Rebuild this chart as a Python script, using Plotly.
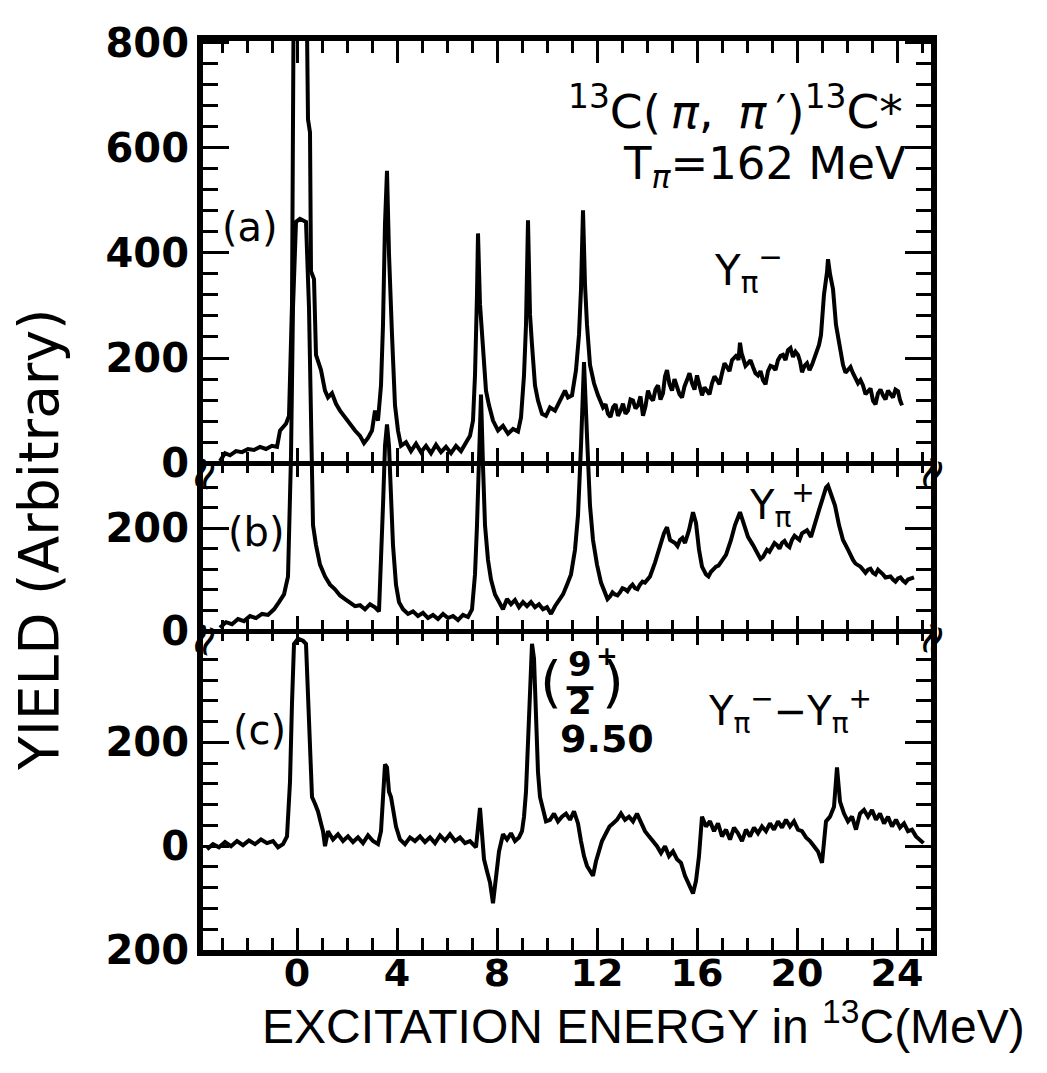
import plotly.graph_objects as go

# ---------------- data ----------------
# (a) Y_pi-  (yield, arbitrary units) vs excitation energy (MeV)
E_a = [-3.08, -2.88, -2.68, -2.44, -2.2, -1.96, -1.72, -1.48, -1.24, -1.0, -0.8, -0.68, -0.44, -0.32,
       -0.2, -0.16, -0.12, 0.12, 0.36, 0.44, 0.52, 0.56, 0.68, 0.76, 0.84, 0.96, 1.12, 1.24, 1.4,
       1.56, 1.72, 1.92, 2.12, 2.32, 2.52, 2.68, 2.84, 3.0, 3.12, 3.24, 3.36, 3.44, 3.52, 3.6, 3.68,
       3.72, 3.8, 3.92, 4.04, 4.16, 4.36, 4.56, 4.76, 4.96, 5.16, 5.36, 5.56, 5.76, 5.96, 6.16, 6.36,
       6.56, 6.76, 6.92, 7.04, 7.12, 7.2, 7.24, 7.32, 7.4, 7.48, 7.56, 7.68, 7.84, 8.04, 8.24, 8.44,
       8.64, 8.84, 8.96, 9.08, 9.16, 9.24, 9.32, 9.4, 9.52, 9.64, 9.8, 9.96, 10.12, 10.32, 10.52,
       10.72, 10.84, 11.0, 11.16, 11.28, 11.36, 11.44, 11.52, 11.6, 11.72, 11.88, 12.04, 12.14, 12.24,
       12.34, 12.44, 12.54, 12.64, 12.74, 12.84, 12.94, 13.04, 13.14, 13.24, 13.34, 13.44, 13.54, 13.64,
       13.74, 13.84, 13.94, 14.04, 14.14, 14.24, 14.34, 14.44, 14.54, 14.64, 14.72, 14.8, 14.9, 15.0,
       15.1, 15.2, 15.3, 15.4, 15.5, 15.6, 15.7, 15.8, 15.9, 16.0, 16.1, 16.2, 16.3, 16.4, 16.5, 16.6,
       16.7, 16.8, 16.9, 17.0, 17.1, 17.2, 17.3, 17.4, 17.5, 17.6, 17.66, 17.72, 17.78, 17.84, 17.94,
       18.04, 18.14, 18.24, 18.34, 18.44, 18.54, 18.64, 18.74, 18.84, 18.94, 19.04, 19.14, 19.24, 19.34,
       19.44, 19.54, 19.64, 19.74, 19.84, 19.94, 20.04, 20.12, 20.2, 20.3, 20.4, 20.5, 20.6, 20.7, 20.8,
       20.88, 20.96, 21.08, 21.2, 21.24, 21.32, 21.44, 21.56, 21.68, 21.84, 21.94, 22.04, 22.14, 22.24,
       22.34, 22.44, 22.54, 22.64, 22.74, 22.84, 22.94, 23.04, 23.14, 23.24, 23.34, 23.44, 23.54, 23.64,
       23.74, 23.84, 23.94, 24.04, 24.12, 24.2]
Y_a = [4, 19, 15, 23, 21, 27, 25, 31, 27, 33, 31, 62, 75, 90,
       302, 658, 1000, 1000, 1000, 654, 629, 365, 350, 206, 196, 177, 138, 125, 133,
       113, 100, 87, 75, 62, 52, 38, 48, 62, 100, 81, 148, 263, 456, 556, 398,
       340, 244, 110, 62, 33, 40, 23, 37, 21, 33, 19, 35, 21, 31, 19, 33,
       23, 38, 52, 81, 167, 321, 437, 302, 244, 187, 138, 110, 81, 62, 71, 56,
       65, 60, 87, 167, 263, 462, 283, 225, 148, 119, 94, 90, 106, 100, 119,
       138, 125, 129, 177, 244, 331, 481, 340, 263, 187, 152, 129, 118, 106,
       112, 94, 88, 106, 112, 90, 100, 113, 94, 100, 121, 119, 104, 110,
       127, 90, 108, 138, 125, 119, 140, 148, 121, 133, 165, 177, 150, 138,
       160, 148, 131, 125, 146, 158, 171, 152, 140, 167, 150, 129, 144, 138, 131, 152,
       165, 158, 150, 171, 190, 183, 175, 196, 202, 206, 196, 229, 210, 202, 185,
       190, 196, 183, 171, 167, 175, 158, 150, 175, 185, 183, 177, 196, 204,
       206, 196, 215, 219, 202, 212, 206, 194, 173, 185, 190, 177, 187, 200, 215,
       225, 244, 321, 363, 388, 360, 331, 263, 225, 187, 172, 177, 183, 171,
       160, 152, 158, 148, 131, 138, 142, 119, 112, 133, 140, 129, 121, 138,
       131, 125, 140, 137, 120, 110]

# (b) Y_pi+
E_b = [-3.08, -2.84, -2.6, -2.36, -2.12, -1.88, -1.64, -1.4, -1.16, -0.92, -0.72, -0.52, -0.36, -0.24,
       -0.16, -0.04, 0.12, 0.36, 0.48, 0.56, 0.64, 0.76, 0.92, 1.12, 1.32, 1.52, 1.72, 1.92, 2.12,
       2.32, 2.52, 2.72, 2.92, 3.12, 3.28, 3.36, 3.44, 3.52, 3.6, 3.68, 3.76, 3.84, 3.96, 4.08, 4.24,
       4.44, 4.64, 4.84, 5.04, 5.24, 5.44, 5.64, 5.84, 6.04, 6.24, 6.44, 6.64, 6.84, 7.0, 7.12, 7.2,
       7.28, 7.36, 7.44, 7.52, 7.64, 7.76, 7.92, 8.08, 8.24, 8.4, 8.56, 8.72, 8.88, 9.04, 9.2, 9.36,
       9.52, 9.68, 9.84, 10.0, 10.16, 10.32, 10.48, 10.64, 10.8, 10.96, 11.12, 11.24, 11.36, 11.48,
       11.6, 11.72, 11.84, 12.0, 12.16, 12.32, 12.42, 12.52, 12.62, 12.72, 12.82, 12.92, 13.02, 13.12,
       13.22, 13.32, 13.42, 13.52, 13.62, 13.72, 13.82, 13.92,
       14.12, 14.32, 14.52, 14.68, 14.8, 14.92, 15.12, 15.22, 15.32, 15.42, 15.52, 15.68, 15.84, 15.96,
       16.08, 16.2, 16.36, 16.46, 16.56, 16.66, 16.76, 16.86, 16.96, 17.16, 17.36, 17.52, 17.72, 17.88,
       18.04, 18.24, 18.34, 18.44, 18.54, 18.64, 18.72, 18.8, 18.9, 19.0, 19.1, 19.2, 19.3, 19.4, 19.5,
       19.6, 19.7, 19.8, 19.9, 20.0, 20.1, 20.2, 20.3, 20.4, 20.56, 20.72, 20.88, 21.04, 21.16, 21.24,
       21.36, 21.52, 21.68, 21.84, 22.04, 22.14, 22.24, 22.34, 22.44, 22.54, 22.64, 22.74, 22.84, 22.94,
       23.04, 23.14, 23.24, 23.34, 23.44, 23.54, 23.64, 23.74, 23.84, 23.94, 24.04, 24.14, 24.24, 24.34,
       24.44, 24.56, 24.68]
Y_b = [6, 17, 13, 23, 19, 29, 25, 33, 31, 42, 56, 71, 106, 340,
       629, 796, 802, 796, 629, 360, 206, 167, 129, 106, 90, 81, 69, 62, 56,
       48, 50, 42, 52, 46, 38, 129, 244, 360, 402, 360, 235, 167, 90, 56, 42,
       33, 38, 29, 35, 25, 31, 23, 33, 25, 29, 21, 31, 27, 42, 110, 206,
       340, 460, 321, 206, 138, 100, 71, 56, 42, 62, 52, 60, 46, 56, 48, 56,
       46, 52, 42, 46, 33, 48, 58, 71, 90, 110, 158, 225, 360, 523,
       379, 244, 177, 129, 94, 75, 62, 67, 75, 71, 69, 75, 83, 81,
       77, 85, 90, 83, 81, 90, 96, 94,
       106, 133, 167, 190, 202, 177, 171, 165, 177, 181, 171, 196, 231, 210,
       158, 125, 110, 106, 115, 121, 125, 127, 133, 148, 177, 206, 231, 206,
       183, 167, 158, 152, 140, 144, 150, 158, 154, 162, 171, 167, 160, 171, 175,
       167, 163, 177, 185, 181, 177, 190, 194, 196, 183, 206, 235, 260, 279, 283,
       267, 244, 206, 177, 158, 146, 138, 131, 129, 125, 119, 113, 119, 121,
       113, 110, 119, 115, 110, 104, 106, 106, 100, 96, 102, 104, 98, 94,
       100, 102, 104]

# (c) Y_pi- - Y_pi+
E_c = [-3.6, -3.36, -3.12, -2.88, -2.64, -2.4, -2.16, -1.92, -1.68, -1.44, -1.2, -0.96, -0.76, -0.56,
       -0.4, -0.28, -0.2, -0.12, 0.04, 0.24, 0.36, 0.44, 0.52, 0.6, 0.72, 0.84, 0.96, 1.04, 1.12, 1.24,
       1.44, 1.64, 1.84, 2.04, 2.24, 2.44, 2.64, 2.84, 3.04, 3.24, 3.36, 3.44, 3.52, 3.6, 3.68, 3.76,
       3.84, 3.96, 4.12, 4.32, 4.52, 4.72, 4.92, 5.12, 5.32, 5.52, 5.72, 5.92, 6.12, 6.32, 6.52, 6.72,
       6.92, 7.16, 7.32, 7.4, 7.48, 7.6, 7.72, 7.84, 7.96, 8.08, 8.24, 8.4, 8.56, 8.72, 8.88, 9.0,
       9.08, 9.16, 9.24, 9.32, 9.4, 9.48, 9.56, 9.64, 9.72, 9.84, 9.96, 10.12, 10.28, 10.44, 10.6,
       10.76, 10.92, 11.08, 11.24, 11.36, 11.48, 11.6, 11.72, 11.84, 11.96, 12.08, 12.2, 12.36, 12.5,
       12.64, 12.8, 12.96, 13.12, 13.28, 13.44, 13.6, 13.76, 13.92, 14.08, 14.24, 14.4, 14.56, 14.72,
       14.88, 15.04, 15.2, 15.36, 15.52, 15.68, 15.84, 15.96, 16.08, 16.2, 16.36, 16.52, 16.68, 16.84,
       17.0, 17.16, 17.32, 17.48, 17.64, 17.8, 17.96, 18.12, 18.28, 18.44, 18.6, 18.76, 18.92, 19.08,
       19.24, 19.4, 19.56, 19.72, 19.88, 20.04, 20.2, 20.36, 20.52, 20.68, 20.84, 21.0, 21.16, 21.32,
       21.48, 21.6, 21.72, 21.88, 22.04, 22.2, 22.36, 22.52, 22.68, 22.84, 23.0, 23.16, 23.32, 23.48,
       23.64, 23.8, 23.96, 24.12, 24.28, 24.44, 24.6, 24.76, 24.92, 25.06]
Y_c = [-6, 4, -2, 8, 0, 10, 2, 11, 4, 13, 6, 10, -2, 4,
       19, 124, 276, 390, 400, 396, 390, 276, 162, 95, 82, 67, 44, 29, 0, 29,
       13, 23, 10, 19, 8, 17, 6, 21, 10, 4, 29, 86, 158, 152, 105, 95,
       67, 38, 13, 4, 17, 10, 19, 8, 17, 6, 21, 11, 23, 10, 17, 6,
       10, -2, 74, 13, -25, -48, -70, -110, -57, -10, 23, 13, 25, 10, 17, 29,
       57, 105, 200, 314, 390, 362, 238, 143, 95, 67, 48, 51, 63, 48, 57,
       63, 51, 67, 44, 10, -19, -38, -48, -57, -29, -6, 10, 25, 38,
       44, 51, 63, 51, 57, 48, 63, 44, 29, 19, 10, 0, -13, 0,
       -19, -10, -25, -32, -57, -76, -91, -67, -19, 57, 38, 48, 29, 44,
       19, 32, 13, 36, 25, 10, 32, 19, 36, 25, 38, 29, 44, 32,
       48, 36, 51, 38, 48, 32, 29, 17, 10, 0, -10, -32, 48, 57,
       76, 152, 86, 63, 48, 57, 32, 63, 70, 57, 70, 51, 63, 44,
       57, 38, 51, 36, 44, 29, 32, 19, 13, 6]

X_MAJOR = [0, 4, 8, 12, 16, 20, 24]
X_MINOR = list(range(-3, 26))
YA_MAJOR = [0, 200, 400, 600, 800]
YA_MINOR = [v for v in range(40, 800, 40) if v % 200]
YB_MAJOR = [0, 200]
YB_MINOR = [40, 80, 120, 160, 240, 280]
YC_MAJOR = [-200, 0, 200]
YC_LABELS = ["200", "0", "200"]
YC_MINOR = [v for v in range(-160, 400, 40) if v % 200]

X_RANGE = [-3.76, 25.36]
LW = 4
TICKFONT = dict(family="DejaVu Sans", size=40, color="black", weight="bold")

fig = go.Figure()
fig.add_trace(go.Scatter(x=E_a, y=Y_a, mode="lines", line=dict(color="black", width=LW), xaxis="x", yaxis="y"))
fig.add_trace(go.Scatter(x=E_b, y=Y_b, mode="lines", line=dict(color="black", width=LW), xaxis="x", yaxis="y2"))
fig.add_trace(go.Scatter(x=E_c, y=Y_c, mode="lines", line=dict(color="black", width=LW), xaxis="x", yaxis="y3"))
# empty traces to register the extra (panel-separator) x axes
for ax in ["x2", "x3", "x4", "x5"]:
    fig.add_trace(go.Scatter(x=[], y=[], xaxis=ax, yaxis="y", showlegend=False))


def yaxis(rng, major, labels, minor, overlay=None):
    d = dict(range=rng, tickvals=major, ticktext=labels, ticks="inside", ticklen=26, tickwidth=3,
             tickcolor="black", showline=True, linewidth=6, linecolor="black", mirror="ticks",
             showgrid=False, zeroline=False, tickfont=TICKFONT, anchor="x",
             minor=dict(tickvals=minor, ticks="inside", ticklen=15, tickwidth=3, tickcolor="black", showgrid=False))
    if overlay:
        d.update(overlaying=overlay, side="left")
    return d


def sep_axis(pos, ticks, show_line):
    return dict(range=X_RANGE, overlaying="x", anchor="free", position=pos, showline=show_line,
                linewidth=5, linecolor="black", tickvals=X_MAJOR, ticks=ticks, ticklen=13, tickwidth=3,
                tickcolor="black", showticklabels=False, showgrid=False, zeroline=False,
                minor=dict(tickvals=X_MINOR, ticks=ticks, ticklen=9, tickwidth=3, tickcolor="black", showgrid=False))


# the page body adds an 8 px offset, so the figure is 8 px smaller and margins shifted
fig.update_layout(
    width=1039, height=1065,
    margin=dict(l=195, r=116, t=22, b=123),
    paper_bgcolor="white", plot_bgcolor="white", showlegend=False,
    font=dict(family="DejaVu Sans", color="black"),
    xaxis=dict(range=X_RANGE, tickvals=X_MAJOR, ticks="inside", ticklen=22, tickwidth=3, tickcolor="black",
               showline=True, linewidth=6, linecolor="black", mirror="ticks", showgrid=False, zeroline=False,
               tickfont=dict(family="DejaVu Sans", size=38, color="black", weight="bold"), anchor="y",
               ticklabelstandoff=-16,
               minor=dict(tickvals=X_MINOR, ticks="inside", ticklen=12, tickwidth=3, tickcolor="black", showgrid=False)),
    xaxis2=sep_axis(0.3511, "inside", True),
    xaxis3=sep_axis(0.3511, "outside", False),
    xaxis4=sep_axis(0.5359, "inside", True),
    xaxis5=sep_axis(0.5359, "outside", False),
    yaxis=yaxis([-926, 803], YA_MAJOR, [str(v) for v in YA_MAJOR], YA_MINOR),
    yaxis2=yaxis([-621, 1148], YB_MAJOR, [str(v) for v in YB_MAJOR], YB_MINOR, overlay="y"),
    yaxis3=yaxis([-200, 1552], YC_MAJOR, YC_LABELS, YC_MINOR, overlay="y"),
)


def px(x):
    return (x - 203) / 728


def py(y):
    return (950 - y) / 920


def note(text, x, y, size, xanchor="center", family="DejaVu Sans", angle=0, weight="normal"):
    fig.add_annotation(text=text, x=px(x), y=py(y), xref="paper", yref="paper", showarrow=False,
                       xanchor=xanchor, yanchor="middle", textangle=angle,
                       font=dict(family=family, size=size, color="black", weight=weight))


note("(a)", 250, 218, 40)
note("(b)", 256, 527, 40)
note("(c)", 259, 727, 40)
note("<sup>13</sup>C(\u2009<i>π</i>,\u2009 <i>π</i>\u2009′)<sup>13</sup>C*", 905, 98, 47, xanchor="right")
note("T<sub><i>π</i></sub>=162 MeV", 908, 157, 45, xanchor="right")
note("Y<sub>π</sub><sup>−</sup>", 748, 262, 42)
note("Y<sub>π</sub><sup>+</sup>", 782, 500, 40)
note("Y<sub>π</sub><sup>−</sup>−Y<sub>π</sub><sup>+</sup>", 790, 708, 40)
note("(", 551, 678, 56)
note("9", 580, 661, 34, weight="bold")
note("2", 580, 699, 34, weight="bold")
note("—", 580, 682, 30, weight="bold")
note(")", 613, 678, 56)
note("+", 607, 652, 26, weight="bold")
note("9.50", 607, 736, 38, weight="bold")
note("YIELD (Arbitrary)", 39, 535, 55, angle=-90)
note("EXCITATION ENERGY in <sup>13</sup>C(MeV)", 643, 1024, 48, family="Liberation Sans")
for yy in (468, 636):
    for xx in (203, 931):
        note("≈", xx, yy, 44, angle=-70)

fig.write_html("out.html")
